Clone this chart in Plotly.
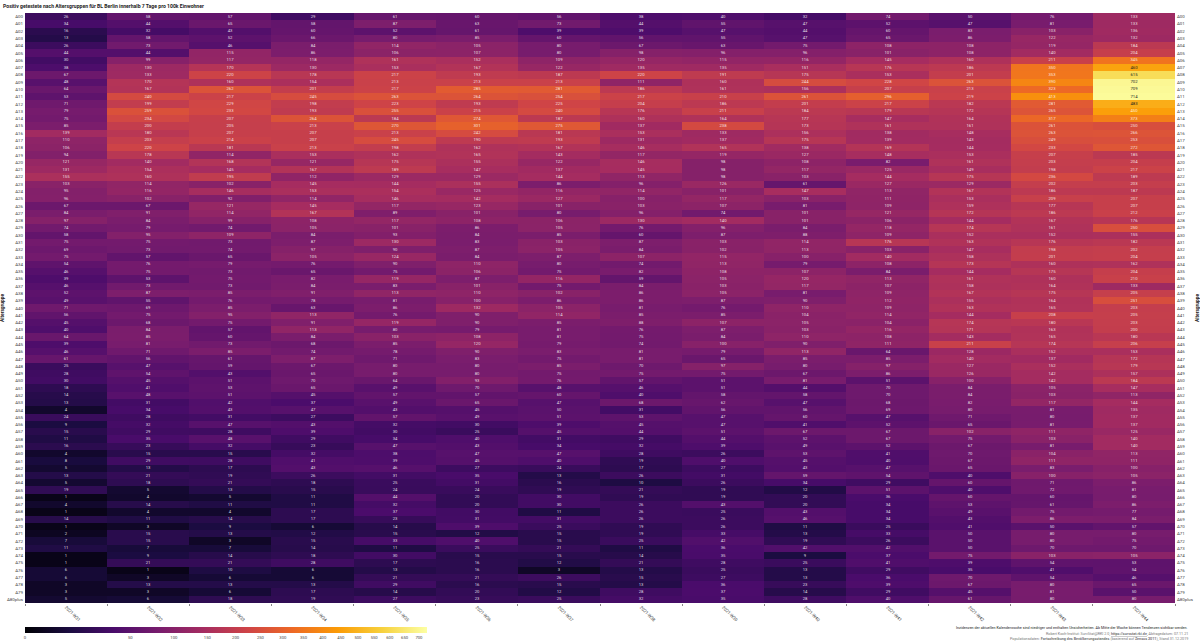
import numpy as np
import plotly.graph_objects as go

# Positiv getestete pro 100k, Zeilen = Alter, Spalten = Wochen
weeks = ['2021-W%d' % w for w in range(31, 45)]
ages = ['A%02d' % a for a in range(80)] + ['A80plus']

ages_00s = [
    [26, 58, 57, 29, 61, 60, 56, 38, 40, 32, 74, 50, 76, 133],
    [34, 44, 65, 58, 87, 63, 73, 44, 55, 47, 52, 47, 81, 133],
    [16, 32, 43, 60, 52, 61, 39, 39, 47, 44, 60, 83, 103, 136],
    [13, 58, 52, 66, 80, 85, 60, 56, 55, 47, 65, 86, 122, 132],
    [26, 73, 46, 84, 114, 105, 80, 67, 63, 75, 108, 108, 119, 184],
    [44, 44, 115, 86, 106, 107, 80, 98, 96, 96, 101, 108, 140, 204],
    [30, 99, 117, 118, 161, 152, 109, 120, 115, 116, 145, 160, 211, 345],
    [38, 130, 170, 130, 153, 167, 122, 135, 135, 151, 176, 186, 350, 460],
    [67, 133, 220, 178, 217, 193, 187, 220, 191, 175, 153, 201, 353, 615],
    [48, 170, 160, 154, 213, 213, 213, 111, 160, 244, 228, 263, 390, 702],
]
ages_10s = [
    [64, 167, 262, 201, 217, 285, 281, 186, 161, 156, 207, 213, 323, 709],
    [53, 240, 217, 245, 263, 264, 254, 217, 210, 261, 296, 219, 413, 714],
    [71, 199, 229, 198, 223, 193, 225, 204, 186, 201, 217, 182, 281, 483],
    [79, 259, 233, 193, 255, 215, 240, 176, 211, 184, 179, 172, 265, 450],
    [75, 234, 207, 264, 184, 274, 187, 160, 164, 177, 147, 164, 317, 373],
    [85, 200, 205, 213, 270, 301, 275, 137, 238, 173, 161, 161, 261, 250],
    [139, 180, 207, 207, 213, 242, 181, 153, 133, 156, 138, 148, 263, 266],
    [110, 203, 214, 207, 245, 190, 193, 131, 137, 175, 139, 143, 249, 253],
    [106, 220, 181, 213, 198, 162, 167, 146, 165, 138, 169, 144, 233, 272],
    [94, 178, 114, 153, 162, 165, 143, 117, 119, 127, 148, 153, 207, 185],
]
ages_20s = [
    [121, 140, 168, 121, 175, 155, 122, 146, 98, 108, 82, 161, 203, 204],
    [131, 154, 145, 167, 189, 147, 137, 145, 98, 117, 125, 149, 198, 217],
    [155, 160, 195, 112, 129, 129, 144, 113, 98, 103, 144, 175, 236, 189],
    [103, 114, 102, 145, 144, 155, 86, 96, 126, 61, 127, 129, 202, 203],
    [95, 116, 146, 153, 154, 125, 116, 114, 101, 147, 113, 167, 186, 187],
    [96, 102, 92, 114, 146, 142, 127, 100, 117, 103, 111, 153, 209, 207],
    [67, 67, 121, 145, 117, 123, 101, 103, 107, 81, 109, 159, 177, 207],
    [84, 91, 114, 167, 89, 101, 80, 96, 74, 101, 121, 172, 186, 212],
    [97, 84, 99, 108, 117, 108, 106, 130, 140, 101, 106, 144, 167, 176],
    [74, 79, 74, 105, 101, 86, 105, 76, 96, 84, 118, 174, 161, 250],
]
ages_30s = [
    [58, 95, 109, 84, 93, 84, 85, 60, 87, 88, 109, 152, 152, 155],
    [75, 75, 73, 87, 130, 83, 103, 87, 103, 114, 176, 163, 176, 182],
    [69, 73, 74, 97, 90, 87, 105, 84, 102, 113, 103, 147, 198, 202],
    [75, 57, 65, 105, 124, 84, 87, 107, 115, 100, 140, 158, 201, 204],
    [54, 76, 79, 76, 90, 110, 80, 74, 113, 79, 108, 173, 160, 162],
    [46, 75, 73, 65, 75, 106, 75, 82, 108, 107, 84, 144, 175, 204],
    [39, 53, 75, 82, 119, 87, 116, 59, 105, 120, 113, 161, 160, 210],
    [46, 73, 73, 84, 83, 101, 75, 84, 103, 117, 107, 158, 164, 133],
    [52, 87, 85, 91, 113, 110, 102, 86, 105, 81, 109, 167, 175, 205],
    [49, 55, 76, 78, 81, 100, 86, 86, 87, 90, 112, 155, 164, 251],
]
ages_40s = [
    [71, 69, 85, 63, 86, 132, 105, 81, 76, 110, 109, 163, 165, 203],
    [56, 75, 95, 113, 76, 90, 114, 85, 85, 104, 114, 144, 208, 205],
    [45, 68, 75, 91, 119, 90, 85, 88, 107, 105, 104, 174, 180, 203],
    [40, 84, 57, 113, 80, 79, 81, 76, 87, 103, 116, 171, 163, 200],
    [64, 85, 60, 84, 103, 108, 81, 75, 84, 110, 108, 143, 165, 180],
    [39, 81, 73, 68, 85, 120, 79, 74, 100, 90, 111, 211, 174, 206],
    [46, 71, 85, 74, 78, 90, 83, 81, 79, 113, 64, 128, 152, 153],
    [61, 56, 61, 87, 71, 83, 75, 81, 65, 85, 85, 140, 137, 172],
    [25, 47, 59, 67, 80, 80, 85, 70, 97, 80, 97, 127, 152, 179],
    [28, 54, 43, 65, 80, 80, 75, 75, 75, 67, 86, 126, 142, 157],
]
ages_50s = [
    [30, 45, 51, 70, 64, 93, 76, 57, 51, 81, 51, 100, 142, 184],
    [18, 41, 53, 65, 49, 70, 48, 46, 51, 44, 70, 84, 105, 147],
    [14, 48, 51, 45, 57, 57, 60, 40, 58, 58, 70, 84, 103, 113],
    [13, 31, 42, 37, 49, 65, 47, 68, 62, 47, 68, 82, 117, 144],
    [4, 34, 43, 47, 43, 45, 50, 31, 56, 56, 69, 80, 81, 135],
    [24, 28, 31, 27, 57, 49, 51, 53, 47, 60, 47, 71, 80, 137],
    [9, 32, 47, 43, 32, 30, 39, 45, 47, 41, 52, 65, 81, 137],
    [15, 29, 28, 39, 30, 25, 45, 44, 51, 67, 67, 102, 111, 125],
    [11, 35, 48, 29, 34, 40, 31, 29, 44, 52, 67, 75, 103, 140],
    [16, 23, 32, 23, 47, 43, 34, 32, 39, 49, 52, 67, 81, 140],
]
ages_60s = [
    [4, 15, 15, 32, 38, 47, 47, 28, 26, 53, 41, 70, 104, 113],
    [8, 29, 28, 41, 39, 45, 40, 19, 40, 45, 40, 67, 111, 111],
    [5, 13, 17, 43, 46, 27, 24, 17, 27, 43, 47, 65, 83, 100],
    [13, 21, 19, 26, 31, 35, 13, 26, 31, 59, 54, 40, 100, 105],
    [5, 18, 21, 18, 25, 31, 16, 10, 26, 34, 29, 60, 71, 86],
    [19, 5, 13, 15, 24, 24, 19, 21, 19, 12, 51, 40, 72, 81],
    [1, 4, 5, 11, 44, 20, 30, 19, 19, 20, 36, 60, 60, 80],
    [4, 14, 11, 11, 32, 20, 30, 26, 43, 20, 34, 53, 61, 86],
    [1, 4, 4, 17, 37, 30, 11, 26, 25, 43, 34, 49, 75, 77],
    [14, 11, 14, 17, 23, 31, 31, 26, 26, 46, 34, 43, 86, 84],
]
ages_70s = [
    [1, 3, 9, 6, 14, 39, 25, 19, 26, 11, 25, 41, 50, 57],
    [2, 15, 13, 12, 15, 12, 15, 19, 33, 13, 33, 50, 80, 80],
    [7, 15, 3, 15, 33, 40, 15, 25, 42, 19, 26, 50, 80, 75],
    [11, 7, 7, 14, 11, 25, 21, 11, 36, 42, 42, 50, 70, 70],
    [1, 9, 14, 18, 30, 15, 15, 14, 35, 9, 37, 75, 103, 105],
    [1, 21, 21, 28, 17, 16, 12, 21, 28, 25, 41, 39, 54, 53],
    [6, 1, 10, 6, 13, 16, 3, 13, 25, 13, 29, 35, 41, 54],
    [6, 3, 6, 6, 21, 21, 26, 15, 27, 13, 36, 70, 54, 46],
    [3, 13, 13, 13, 29, 16, 15, 13, 36, 23, 39, 67, 80, 65],
    [3, 3, 6, 17, 14, 20, 12, 28, 37, 14, 29, 45, 81, 50],
]
ages_80plus = [
    [5, 6, 18, 19, 27, 23, 25, 32, 35, 28, 40, 61, 80, 80],
]

bar_ticks = [0, 50, 100, 150, 200, 250, 300, 350, 400, 450, 500, 550, 600, 650, 700]
dark_text_from = 460  # ab hier schwarzer Text

values = np.array(ages_00s + ages_10s + ages_20s + ages_30s + ages_40s
                  + ages_50s + ages_60s + ages_70s + ages_80plus)
z = np.sqrt(values)  # Farbskala ist wurzelskaliert
z_max = 27

bright = values >= dark_text_from
light_text = [[str(v) if v < dark_text_from else '' for v in row] for row in values]
dark_text = [[str(v) if v >= dark_text_from else '' for v in row] for row in values]

W, H = 1200, 641
L, R, T, B = 25, 25, 12.5, 37.7
plot_w = W - L - R
plot_h = H - T - B

fig = go.Figure()

fig.add_trace(go.Heatmap(
    x=weeks, y=ages, z=z,
    zmin=0, zmax=z_max,
    colorscale='Inferno',
    text=light_text,
    texttemplate='%{text}',
    textfont=dict(size=4.2, color='rgba(255,255,255,0.85)', family='Roboto'),
    customdata=values,
    hovertemplate='%{y} %{x}: %{customdata}<extra></extra>',
    colorbar=dict(
        orientation='h',
        lenmode='pixels', len=402,
        thicknessmode='pixels', thickness=6,
        x=0, xanchor='left', xpad=0,
        y=-(627 - (H - B)) / plot_h, yanchor='top', ypad=0,
        outlinewidth=0,
        tickmode='array',
        tickvals=np.sqrt(bar_ticks).tolist(),
        ticktext=[str(t) for t in bar_ticks],
        ticks='',
        tickfont=dict(size=4.2, color='#444444', family='Roboto'),
    ),
))

# helle Zellen mit dunklem Text
fig.add_trace(go.Heatmap(
    x=weeks, y=ages, z=np.where(bright, z, np.nan),
    zmin=0, zmax=z_max,
    colorscale='Inferno',
    showscale=False,
    text=dark_text,
    texttemplate='%{text}',
    textfont=dict(size=4.2, color='#222222', family='Roboto'),
    hoverinfo='skip',
))

# nur fuer die rechte Achse
fig.add_trace(go.Scatter(
    x=[weeks[0]], y=[ages[0]], yaxis='y2',
    mode='markers', marker=dict(opacity=0), showlegend=False, hoverinfo='skip',
))

axis_font = dict(size=4.4, color='#444444', family='Roboto')
title_font = dict(size=4.8, color='#222222', family='Roboto')
y_range = [len(ages) - 0.5, -0.5]

fig.update_layout(
    width=W, height=H,
    margin=dict(l=L, r=R, t=T, b=B, pad=0, autoexpand=False),
    paper_bgcolor='white',
    plot_bgcolor='white',
    font=dict(family='Roboto'),
    showlegend=False,
    xaxis=dict(
        type='category', categoryarray=weeks, tickangle=45,
        range=[-0.5, len(weeks) - 0.5],
        tickfont=axis_font, ticks='outside', ticklen=1.5, tickwidth=0.5,
        tickcolor='#888888', tickson='boundaries', showgrid=False, zeroline=False,
        automargin=False,
    ),
    yaxis=dict(
        type='category', categoryarray=ages, range=y_range,
        tickfont=axis_font, ticks='', showgrid=False, zeroline=False, automargin=False,
        tickmode='array', tickvals=ages, ticktext=ages, ticklabelstandoff=1,
        title=dict(text='<b>Altersgruppe</b>', font=title_font, standoff=2),
    ),
    yaxis2=dict(
        type='category', categoryarray=ages, range=y_range,
        overlaying='y', side='right', anchor='x', matches='y', automargin=False,
        tickfont=axis_font, ticks='', showgrid=False, zeroline=False,
        tickmode='array', tickvals=ages, ticktext=ages, ticklabelstandoff=1,
        title=dict(text='<b>Altersgruppe</b>', font=title_font, standoff=2),
    ),
)

fig.add_annotation(
    xref='paper', yref='paper', x=-L / plot_w + 0.0009, y=1 + 7.5 / plot_h,
    xanchor='left', yanchor='middle', showarrow=False,
    text='<b>Positiv getestete nach Altersgruppen für BL Berlin innerhalb 7 Tage pro 100k Einwohner</b>',
    font=dict(size=5.1, color='#222222', family='Roboto'),
)

notes = [
    ('Inzidenzen der aktuellen Kalenderwoche sind niedriger und enthalten Unsicherheiten. '
     'Ab Mitte der Woche können Tendenzen sichtbar werden.', 628, '#222222'),
    ('Robert Koch-Institut: SurvStat@RKI 2.0, <b><u>https://survstat.rki.de</u></b>, '
     'Abfragedatum: 07.11.21', 634, '#777777'),
    ('Populationsdaten: <b><u>Fortschreibung des Bevölkerungsstandes</u></b> (basierend auf '
     '<b><u>Zensus 2011</u></b>), Stand 31.12.2019', 639, '#777777'),
]
for text, y_px, color in notes:
    fig.add_annotation(
        xref='paper', yref='paper',
        x=(1190 - L) / plot_w, y=(H - B - y_px) / plot_h,
        xanchor='right', yanchor='middle', showarrow=False,
        text=text, font=dict(size=3.7, color=color, family='Roboto'),
    )

fig.write_html("out.html", config=dict(displayModeBar=False), post_script="document.body.style.margin='0';")
